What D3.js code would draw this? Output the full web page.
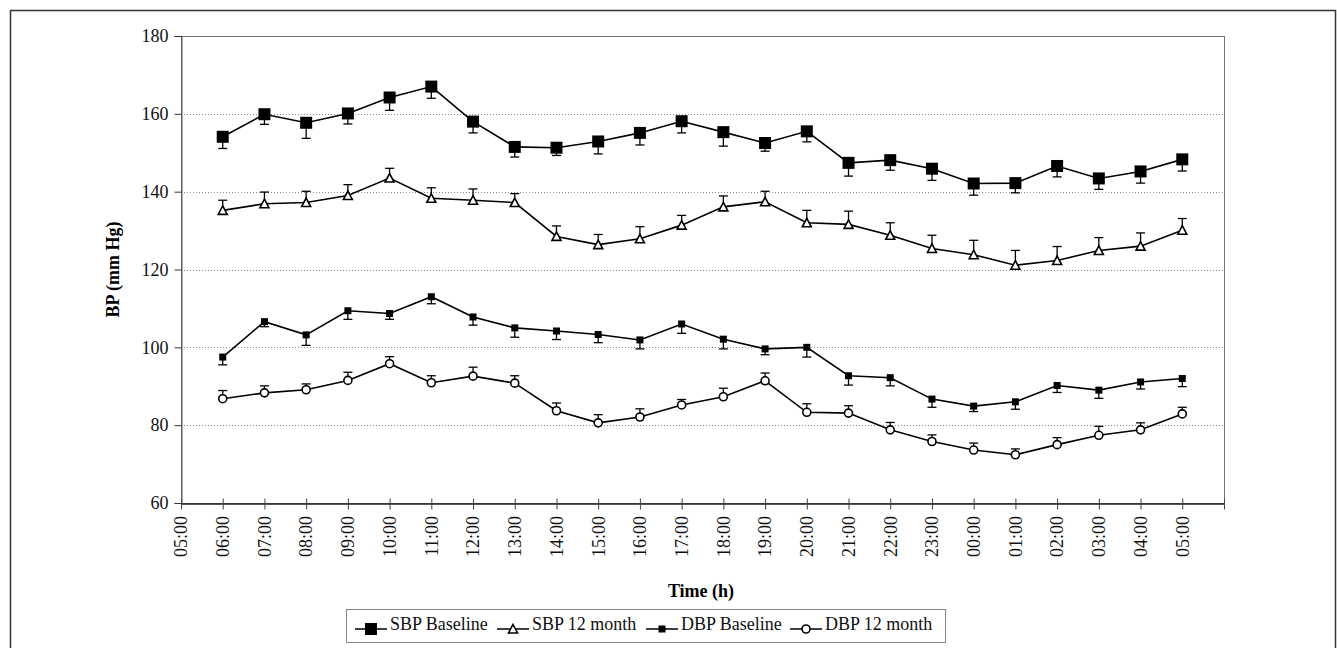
<!DOCTYPE html>
<html>
<head>
<meta charset="utf-8">
<script src="https://cdn.jsdelivr.net/npm/d3@7"></script>
<style>
  body { margin: 0; background: #fff; }
  svg { display: block; font-family: 'Liberation Serif', 'Times New Roman', serif; }
</style>
</head>
<body>
<div id="chart"></div>
<script>
'use strict';

// hour labels on the x axis (05:00 .. 05:00 next day)
const hourLabels = ['05:00', '06:00', '07:00', '08:00', '09:00', '10:00', '11:00', '12:00',
  '13:00', '14:00', '15:00', '16:00', '17:00', '18:00', '19:00', '20:00', '21:00', '22:00',
  '23:00', '00:00', '01:00', '02:00', '03:00', '04:00', '05:00'];

// measured hours: 06:00 .. 05:00
const sbpBaseline = [154.1, 159.9, 157.7, 160.1, 164.2, 167.0, 158.0, 151.5, 151.3, 152.9, 155.1, 158.1,
  155.3, 152.5, 155.5, 147.4, 148.1, 145.9, 142.1, 142.2, 146.6, 143.4, 145.2, 148.3];
const sbpBaselineErr = [3.0, 2.6, 4.0, 2.7, 3.3, 3.0, 2.9, 2.6, 2.0, 3.2, 3.1, 3.0,
  3.6, 2.1, 2.7, 3.4, 2.6, 3.0, 3.0, 2.5, 2.8, 2.8, 3.0, 3.0];

const sbp12 = [135.2, 136.9, 137.2, 139.0, 143.5, 138.3, 137.8, 137.2, 128.5, 126.4, 127.9, 131.4,
  136.1, 137.4, 132.0, 131.6, 128.8, 125.4, 123.8, 121.1, 122.3, 124.9, 126.0, 130.1];
const sbp12Err = [2.6, 3.0, 2.9, 2.8, 2.5, 2.7, 2.9, 2.3, 2.7, 2.6, 3.1, 2.5,
  2.8, 2.7, 3.2, 3.4, 3.2, 3.4, 3.7, 3.8, 3.6, 3.3, 3.4, 3.0];

const dbpBaseline = [97.5, 106.6, 103.2, 109.4, 108.7, 113.0, 107.8, 105.0, 104.2, 103.3, 101.9, 106.0,
  102.1, 99.6, 100.0, 92.7, 92.2, 86.7, 84.9, 86.0, 90.2, 89.0, 91.1, 92.0];
const dbpBaselineErr = [2.0, 1.3, 2.7, 2.2, 1.5, 1.8, 2.1, 2.4, 2.2, 2.1, 2.3, 2.4,
  2.5, 1.5, 2.5, 2.4, 2.1, 2.1, 1.4, 1.9, 1.8, 2.1, 1.8, 2.1];

const dbp12 = [86.8, 88.3, 89.1, 91.5, 95.8, 90.9, 92.6, 90.8, 83.7, 80.6, 82.1, 85.2,
  87.3, 91.4, 83.3, 83.1, 78.8, 75.8, 73.6, 72.4, 75.0, 77.4, 78.8, 82.9];
const dbp12Err = [2.1, 1.8, 1.5, 2.1, 1.8, 1.8, 2.3, 1.9, 2.0, 2.1, 2.1, 1.4,
  2.2, 2.0, 2.2, 1.9, 1.9, 1.7, 1.8, 1.5, 1.8, 2.3, 1.8, 1.7];

const yTicks = [60, 80, 100, 120, 140, 160, 180];

const series = [
  { name: 'SBP Baseline', values: sbpBaseline, err: sbpBaselineErr, dir: -1, marker: 'bigSquare' },
  { name: 'SBP 12 month', values: sbp12, err: sbp12Err, dir: 1, marker: 'triangle' },
  { name: 'DBP Baseline', values: dbpBaseline, err: dbpBaselineErr, dir: -1, marker: 'smallSquare' },
  { name: 'DBP 12 month', values: dbp12, err: dbp12Err, dir: 1, marker: 'circle' },
];

const W = 1337;
const H = 648;
const plot = { left: 181, right: 1224, top: 36, bottom: 503 };

const svg = d3.select('#chart')
  .append('svg')
  .attr('width', W)
  .attr('height', H);

// outer chart frame (runs off the bottom of the picture)
svg.append('rect')
  .attr('x', 10.5)
  .attr('y', 10.5)
  .attr('width', 1325)
  .attr('height', 700)
  .attr('fill', 'none')
  .attr('stroke', '#333')
  .attr('stroke-width', 1.5);

const x = d3.scaleLinear()
  .domain([0, hourLabels.length])
  .range([plot.left, plot.right]);

const y = d3.scaleLinear()
  .domain([60, 180])
  .range([plot.bottom, plot.top]);

// gridlines
svg.append('g')
  .selectAll('line')
  .data(yTicks.filter((d) => d > 60 && d < 180))
  .join('line')
  .attr('x1', plot.left)
  .attr('x2', plot.right)
  .attr('y1', (d) => Math.round(y(d)) + 0.5)
  .attr('y2', (d) => Math.round(y(d)) + 0.5)
  .attr('stroke', '#888')
  .attr('stroke-width', 1)
  .attr('stroke-dasharray', '1,2');

// plot area border (top and right are grey)
svg.append('rect')
  .attr('x', plot.left + 0.5)
  .attr('y', plot.top + 0.5)
  .attr('width', plot.right - plot.left)
  .attr('height', plot.bottom - plot.top)
  .attr('fill', 'none')
  .attr('stroke', '#777')
  .attr('stroke-width', 1);

// y axis
const yAxis = d3.axisLeft(y)
  .tickValues(yTicks)
  .tickSize(7)
  .tickPadding(6);

svg.append('g')
  .attr('transform', `translate(${plot.left + 0.5},0)`)
  .call(yAxis)
  .call((g) => g.select('.domain').attr('stroke', '#555'))
  .call((g) => g.selectAll('.tick line').attr('stroke', '#333'))
  .call((g) => g.selectAll('text')
    .attr('font-size', 18)
    .attr('font-family', 'Liberation Serif')
    .attr('fill', '#111'));

// x axis, ticks cross the axis line
const xAxis = d3.axisBottom(x)
  .tickValues(d3.range(hourLabels.length + 1))
  .tickSize(0)
  .tickFormat('');

const xg = svg.append('g')
  .attr('transform', `translate(0,${plot.bottom + 0.5})`)
  .call(xAxis);
xg.select('.domain').attr('stroke', '#222').attr('stroke-width', 1.5);
xg.selectAll('.tick line')
  .attr('y1', -5)
  .attr('y2', 6)
  .attr('stroke', '#444');

svg.append('g')
  .selectAll('text')
  .data(hourLabels)
  .join('text')
  .attr('transform', (d, i) => `translate(${x(i)},${plot.bottom + 13}) rotate(-90)`)
  .attr('text-anchor', 'end')
  .attr('dy', '0.35em')
  .attr('font-size', 18)
  .attr('fill', '#111')
  .text((d) => d);

// axis titles
svg.append('text')
  .attr('transform', `translate(113,${(plot.top + plot.bottom) / 2}) rotate(-90)`)
  .attr('text-anchor', 'middle')
  .attr('dy', '0.35em')
  .attr('font-size', 18)
  .attr('font-weight', 'bold')
  .text('BP (mm Hg)');

svg.append('text')
  .attr('x', 701)
  .attr('y', 597)
  .attr('text-anchor', 'middle')
  .attr('font-size', 18)
  .attr('font-weight', 'bold')
  .text('Time (h)');

// marker drawing
const drawMarker = (sel, type) => {
  if (type === 'bigSquare') {
    sel.append('rect').attr('x', -6).attr('y', -6).attr('width', 12).attr('height', 12).attr('fill', '#000');
  } else if (type === 'smallSquare') {
    sel.append('rect').attr('x', -3.5).attr('y', -3.5).attr('width', 7).attr('height', 7).attr('fill', '#000');
  } else if (type === 'triangle') {
    sel.append('path').attr('d', 'M0,-4.5L4.5,4L-4.5,4Z')
      .attr('fill', '#fff').attr('stroke', '#000').attr('stroke-width', 1.6);
  } else {
    sel.append('circle').attr('r', 4)
      .attr('fill', '#fff').attr('stroke', '#000').attr('stroke-width', 1.6);
  }
};

const line = d3.line()
  .x((d) => x(d.i))
  .y((d) => y(d.v));

series.forEach((s) => {
  const pts = s.values.map((v, k) => ({ i: k + 1, v, e: s.err[k] }));
  const g = svg.append('g');

  // error bars (one-sided)
  const eb = g.selectAll('.eb')
    .data(pts)
    .join('g')
    .attr('class', 'eb');
  eb.append('line')
    .attr('x1', (d) => x(d.i))
    .attr('x2', (d) => x(d.i))
    .attr('y1', (d) => y(d.v))
    .attr('y2', (d) => y(d.v + s.dir * d.e))
    .attr('stroke', '#000')
    .attr('stroke-width', 1.3);
  eb.append('line')
    .attr('x1', (d) => x(d.i) - 4.5)
    .attr('x2', (d) => x(d.i) + 4.5)
    .attr('y1', (d) => y(d.v + s.dir * d.e))
    .attr('y2', (d) => y(d.v + s.dir * d.e))
    .attr('stroke', '#000')
    .attr('stroke-width', 1.3);

  g.append('path')
    .datum(pts)
    .attr('d', line)
    .attr('fill', 'none')
    .attr('stroke', '#000')
    .attr('stroke-width', 1.6);

  g.selectAll('.mk')
    .data(pts)
    .join('g')
    .attr('class', 'mk')
    .attr('transform', (d) => `translate(${x(d.i)},${y(d.v)})`)
    .each(function () { drawMarker(d3.select(this), s.marker); });
});

// legend
const legendX = [355, 497, 646, 790];
const legend = svg.append('g');
legend.append('rect')
  .attr('x', 346.5)
  .attr('y', 609.5)
  .attr('width', 599)
  .attr('height', 33)
  .attr('fill', '#fff')
  .attr('stroke', '#888')
  .attr('stroke-width', 1);

series.forEach((s, i) => {
  const lg = legend.append('g')
    .attr('transform', `translate(${legendX[i]},629)`);
  lg.append('line')
    .attr('x1', 0)
    .attr('x2', 32)
    .attr('stroke', '#000')
    .attr('stroke-width', 1.5);
  drawMarker(lg.append('g').attr('transform', 'translate(16,0)'), s.marker);
  lg.append('text')
    .attr('x', 35)
    .attr('y', 0)
    .attr('dy', '0.05em')
    .attr('font-size', 18)
    .attr('fill', '#111')
    .text(s.name);
});
</script>
</body>
</html>
